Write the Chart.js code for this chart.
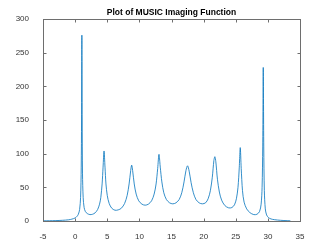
<!DOCTYPE html>
<html>
<head>
<meta charset="utf-8">
<script src="https://cdn.jsdelivr.net/npm/chart.js@4.4.1/dist/chart.umd.min.js"></script>
<style>
  html, body { margin: 0; padding: 0; background: #fff; }
  #wrap { width: 332px; height: 249px; }
</style>
</head>
<body>
<div id="wrap"><canvas id="musicChart"></canvas></div>
<script>
// angle / position samples (denser around the peaks)
const xs = [
  -5, -4, -3, -2, -1, -0.5, 0, 0.3, 0.5, 0.7, 0.85, 0.95, 1.0, 1.05, 1.1, 1.15, 1.25, 1.4, 1.6, 1.9,
  2.3, 2.7, 3.1, 3.5, 3.8, 4.0, 4.2, 4.35, 4.5, 4.65, 4.8, 5.0, 5.3, 5.7, 6.2, 6.7, 7.2, 7.7,
  8.1, 8.4, 8.65, 8.8, 8.95, 9.2, 9.5, 9.9, 10.4, 10.9, 11.4, 11.9, 12.3, 12.6, 12.85, 13.05,
  13.25, 13.5, 13.8, 14.2, 14.7, 15.2, 15.7, 16.2, 16.6, 16.95, 17.25, 17.5, 17.75, 18.05,
  18.4, 18.8, 19.3, 19.8, 20.3, 20.7, 21.05, 21.35, 21.6, 21.75, 21.9, 22.15, 22.45, 22.8,
  23.3, 23.9, 24.4, 24.8, 25.1, 25.35, 25.55, 25.7, 25.85, 26.05, 26.3, 26.7, 27.2, 27.8,
  28.3, 28.7, 28.95, 29.1, 29.2, 29.28, 29.36, 29.45, 29.6, 29.8, 30.1, 30.5, 31, 32, 33, 33.5
];
// imaging function values
const ys = [
  0.3, 0.4, 0.6, 1.0, 1.8, 2.8, 4.5, 7, 10, 17, 35, 80, 150, 276, 150, 70, 35, 20, 14, 11,
  9.5, 10, 12, 17, 25, 35, 55, 80, 104, 80, 55, 38, 26, 19, 16, 16.5, 19, 26,
  38, 55, 75, 83, 75, 55, 40, 30, 25, 23.5, 25, 30, 40, 55, 78, 99,
  80, 58, 42, 32, 27, 25.5, 27, 32, 42, 58, 75, 82, 74, 57,
  42, 32, 27, 25.5, 27, 33, 45, 65, 90, 95.5, 88, 62, 43, 31,
  23, 19.5, 20, 24, 33, 50, 80, 109, 78, 45, 28, 18, 12.5, 9.5,
  10, 14, 25, 50, 110, 228, 110, 45, 18, 9, 5, 3, 2, 1, 0.5, 0.3
];
const xTicks = [-5, 0, 5, 10, 15, 20, 25, 30, 35];
const yTicks = [0, 50, 100, 150, 200, 250, 300];
const titleText = 'Plot of MUSIC Imaging Function';

const axisColor = '#6e6e6e';
const tickFont = { family: 'Liberation Sans', size: 8 };

// MATLAB-like box with inward ticks on all four sides, title centred on the axes
const boxTicks = {
  id: 'boxTicks',
  afterDraw(chart) {
    const { ctx, chartArea: a, scales: { x, y } } = chart;
    const L = Math.round(a.left) + 0.5, R = Math.round(a.right) + 0.5;
    const T = Math.round(a.top) + 0.5, B = Math.round(a.bottom) + 0.5;
    const len = 3;
    ctx.save();
    ctx.strokeStyle = axisColor;
    ctx.lineWidth = 1;
    ctx.strokeRect(L, T, R - L, B - T);
    ctx.beginPath();
    x.ticks.forEach(t => {
      const px = Math.round(x.getPixelForValue(t.value)) + 0.5;
      ctx.moveTo(px, B); ctx.lineTo(px, B - len);
      ctx.moveTo(px, T); ctx.lineTo(px, T + len);
    });
    y.ticks.forEach(t => {
      const py = Math.round(y.getPixelForValue(t.value)) + 0.5;
      ctx.moveTo(L, py); ctx.lineTo(L + len, py);
      ctx.moveTo(R, py); ctx.lineTo(R - len, py);
    });
    ctx.stroke();

    ctx.fillStyle = '#000';
    ctx.font = 'bold 8.5px "Liberation Sans"';
    ctx.textAlign = 'center';
    ctx.textBaseline = 'middle';
    ctx.fillText(titleText, (a.left + a.right) / 2, 12.5);
    ctx.restore();
  }
};

new Chart(document.getElementById('musicChart'), {
  type: 'line',
  data: {
    datasets: [{
      data: xs.map((v, i) => ({ x: v, y: ys[i] })),
      borderColor: 'rgb(0, 114, 189)',
      borderWidth: 0.8,
      pointRadius: 0,
      tension: 0.3,
      fill: false
    }]
  },
  options: {
    responsive: true,
    maintainAspectRatio: false,
    animation: false,
    layout: { padding: { left: 0, right: 32, top: 19, bottom: 0 } },
    plugins: {
      legend: { display: false },
      tooltip: { enabled: false },
      title: { display: false }
    },
    scales: {
      x: {
        type: 'linear',
        min: -5,
        max: 35,
        afterBuildTicks: s => { s.ticks = xTicks.map(v => ({ value: v })); },
        afterFit: s => { s.height = 28; },
        grid: { display: false },
        border: { display: false },
        ticks: { color: '#333', font: tickFont, padding: 3, maxRotation: 0 }
      },
      y: {
        min: 0,
        max: 300,
        afterBuildTicks: s => { s.ticks = yTicks.map(v => ({ value: v })); },
        afterFit: s => { s.width = 43; },
        grid: { display: false },
        border: { display: false },
        ticks: { color: '#333', font: tickFont, padding: 6 }
      }
    }
  },
  plugins: [boxTicks]
});
</script>
</body>
</html>
